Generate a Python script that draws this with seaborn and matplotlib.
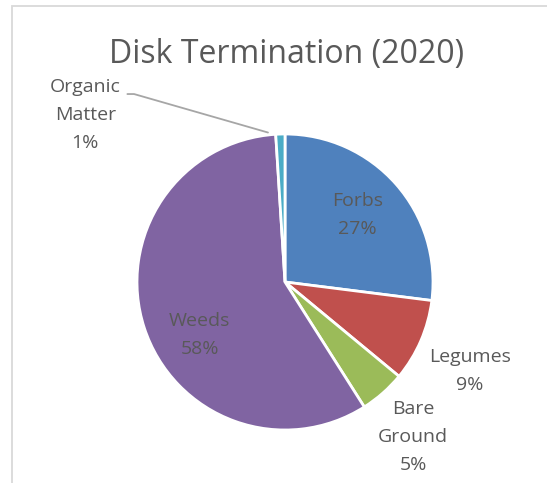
import matplotlib
matplotlib.use("Agg")
import matplotlib.pyplot as plt
from matplotlib.patches import Rectangle
from matplotlib.lines import Line2D
import numpy as np
import seaborn as sns

# Cover composition after disk termination
categories = ["Forbs", "Legumes", "Bare\nGround", "Weeds", "Organic\nMatter"]
shares = [27, 9, 5, 58, 1]
colors = ["#4F81BD", "#C0504D", "#9BBB59", "#8064A2", "#4BACC6"]
title = "Disk Termination (2020)"

sns.set_theme(style="white")
plt.rcParams["font.family"] = ["Open Sans", "DejaVu Sans"]
text_color = "#595959"

W, H = 547, 483
fig = plt.figure(figsize=(W / 100, H / 100), dpi=100)
fig.patch.set_facecolor("white")

# pie centre and radius in pixels (from the top-left corner)
cx, cy, R = 285, 282, 148
ax = fig.add_axes([0, 0, 1, 1])
wedges, _ = ax.pie(
    shares,
    colors=sns.color_palette(colors),
    startangle=90,
    counterclock=False,
    radius=1.0,
    wedgeprops=dict(edgecolor="white", linewidth=2.0),
)
ax.set_aspect("auto")
ax.set_xlim(-cx / R, (W - cx) / R)
ax.set_ylim((cy - H) / R, cy / R)
ax.axis("off")

# label anchors in pie-radius units
label_pos = [(0.49, 0.45), (1.25, -0.60), (0.865, -1.045), (-0.575, -0.36), (-1.35, 1.13)]
for name, val, (lx, ly) in zip(categories, shares, label_pos):
    ax.text(lx, ly, f"{name}\n{val}%", ha="center", va="center",
            fontsize=14, color=text_color, linespacing=1.72)

# leader line for the small Organic Matter slice
lx0, ly0 = -1.065, 1.27
ax.add_line(Line2D([lx0, lx0 + 0.045, -0.115], [ly0, ly0, 1.01],
                   color="#A6A6A6", linewidth=1.3))

fig.text(287 / W, 1 - 54 / H, title, ha="center", va="center",
         fontsize=23, color=text_color)

# chart area border
fig.patches.append(Rectangle((12 / W, -0.1), 1.2, 1 - 6 / H + 0.1,
                             transform=fig.transFigure, fill=False,
                             edgecolor="#D9D9D9", linewidth=1.3))

fig.savefig("out.png", dpi=100)
